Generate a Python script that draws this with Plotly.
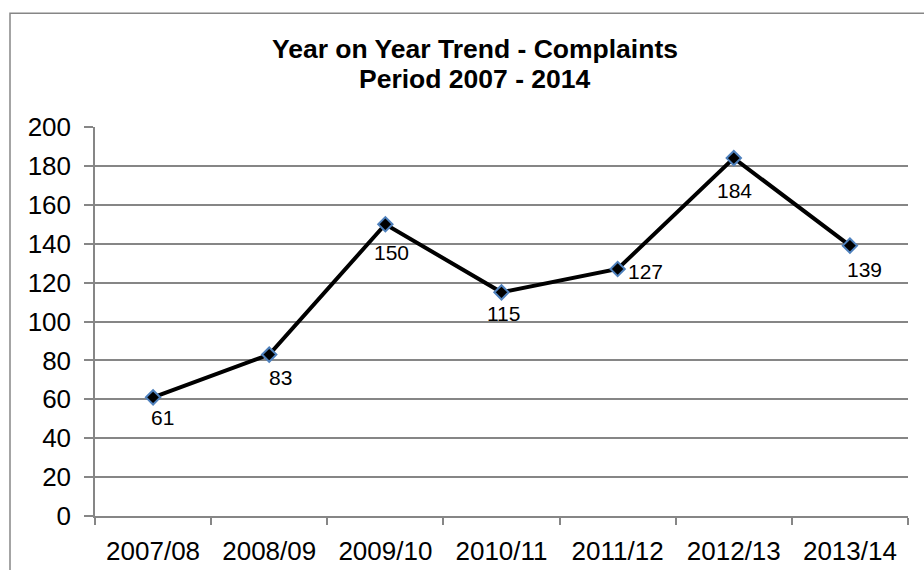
import plotly.graph_objects as go

# Complaints received per financial year
years = ["2007/08", "2008/09", "2009/10", "2010/11", "2011/12", "2012/13", "2013/14"]
complaints = [61, 83, 150, 115, 127, 184, 139]
y_ticks = [0, 20, 40, 60, 80, 100, 120, 140, 160, 180, 200]

# Per-point label placement (x shift, y shift in px, anchor)
label_place = [
    (9, -20, "center"),
    (11, -23, "center"),
    (6, -28, "center"),
    (2, -21, "center"),
    (8, -3, "left"),
    (1, -32, "center"),
    (15, -24, "center"),
]

GRID = "#868686"
FONT = "Liberation Sans, Arial, sans-serif"

fig = go.Figure()
fig.add_trace(go.Scatter(
    x=years,
    y=complaints,
    mode="lines+markers",
    line=dict(color="black", width=4),
    marker=dict(symbol="diamond", size=11, color="black",
                line=dict(color="#4F81BD", width=2)),
    hoverinfo="x+y",
    showlegend=False,
))

annotations = []
for yr, val, (dx, dy, anchor) in zip(years, complaints, label_place):
    annotations.append(dict(
        x=yr, y=val, xref="x", yref="y", text=str(val), showarrow=False,
        xanchor=anchor, yanchor="middle", xshift=dx, yshift=dy,
        font=dict(family=FONT, size=21, color="black"),
    ))

# Two-line chart title
PLOT_L, PLOT_R, PLOT_T, PLOT_B = 95, 908, 126.7, 515.7
def px_x(p):
    return (p - PLOT_L) / (PLOT_R - PLOT_L)
def px_y(p):
    return (PLOT_B - p) / (PLOT_B - PLOT_T)

for txt, yc in [("Year on Year Trend - Complaints", 49), ("Period 2007 - 2014", 79)]:
    annotations.append(dict(
        x=px_x(475), y=px_y(yc), xref="paper", yref="paper",
        text="<b>" + txt + "</b>", showarrow=False,
        xanchor="center", yanchor="middle",
        font=dict(family=FONT, size=26.5, color="black"),
    ))

fig.update_layout(
    width=924, height=570,
    margin=dict(l=95, r=16, t=127, b=54, pad=0, autoexpand=False),
    paper_bgcolor="white", plot_bgcolor="white",
    font=dict(family=FONT, color="black"),
    annotations=annotations,
    shapes=[dict(
        type="rect", xref="paper", yref="paper",
        x0=px_x(10), x1=px_x(940), y0=px_y(600), y1=px_y(13),
        line=dict(color=GRID, width=1.5), fillcolor="rgba(0,0,0,0)", layer="below",
    )],
    xaxis=dict(
        type="category", range=[-0.5, 6.5], tickson="boundaries",
        showgrid=False, zeroline=False, automargin=False,
        showline=True, linecolor=GRID, linewidth=1.5,
        ticks="outside", ticklen=7, tickcolor=GRID, tickwidth=1.5,
        tickfont=dict(family=FONT, size=26, color="black"),
        ticklabelstandoff=11,
    ),
    yaxis=dict(
        range=[0, 200], tickvals=y_ticks, automargin=False,
        showgrid=True, gridcolor=GRID, gridwidth=1.5, zeroline=False,
        showline=True, linecolor=GRID, linewidth=1.5,
        ticks="outside", ticklen=9, tickcolor=GRID, tickwidth=1.5,
        tickfont=dict(family=FONT, size=26, color="black"),
        ticklabelstandoff=8,
    ),
)

fig.write_html("out.html")
